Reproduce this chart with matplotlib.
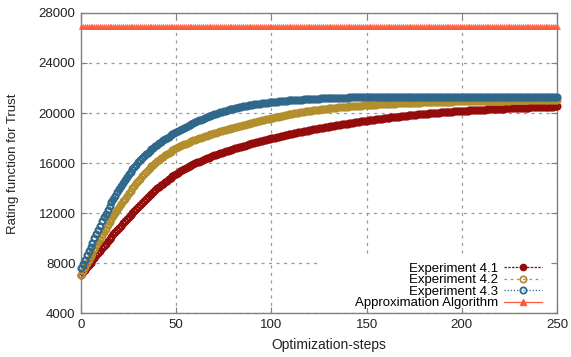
import numpy as np
import matplotlib
matplotlib.use("Agg")
import matplotlib.pyplot as plt
from matplotlib.lines import Line2D
from matplotlib.patches import Rectangle

plt.rcParams['font.family'] = ['Liberation Sans', 'DejaVu Sans']

# Optimization steps 0..250, one value per step
steps = np.arange(0, 251)

exp_41 = [
    7050, 7249, 7447, 7644, 7840, 8035, 8230, 8424, 8617, 8809,
    9000, 9188, 9375, 9560, 9744, 9926, 10107, 10287, 10465, 10642,
    10817, 10991, 11164, 11335, 11505, 11673, 11840, 12005, 12169, 12331,
    12492, 12651, 12807, 12961, 13112, 13261, 13407, 13551, 13692, 13831,
    13967, 14100, 14229, 14355, 14477, 14595, 14710, 14821, 14928, 15031,
    15131, 15228, 15322, 15413, 15502, 15588, 15672, 15753, 15831, 15907,
    15980, 16051, 16120, 16187, 16253, 16317, 16379, 16440, 16499, 16556,
    16612, 16667, 16721, 16774, 16826, 16877, 16928, 16978, 17027, 17075,
    17122, 17169, 17215, 17261, 17306, 17351, 17395, 17439, 17482, 17525,
    17567, 17609, 17650, 17691, 17731, 17771, 17810, 17849, 17887, 17925,
    17965, 18002, 18038, 18074, 18110, 18145, 18180, 18215, 18250, 18285,
    18320, 18351, 18382, 18413, 18444, 18475, 18506, 18537, 18568, 18599,
    18630, 18657, 18684, 18711, 18738, 18765, 18792, 18819, 18846, 18873,
    18900, 18926, 18952, 18978, 19004, 19030, 19056, 19082, 19108, 19134,
    19160, 19184, 19208, 19232, 19256, 19280, 19304, 19328, 19352, 19376,
    19400, 19419, 19438, 19457, 19476, 19495, 19514, 19533, 19552, 19571,
    19590, 19608, 19626, 19644, 19662, 19680, 19698, 19716, 19734, 19752,
    19770, 19786, 19802, 19818, 19834, 19850, 19866, 19882, 19898, 19914,
    19930, 19943, 19956, 19969, 19982, 19995, 20008, 20021, 20034, 20047,
    20060, 20071, 20082, 20093, 20104, 20115, 20126, 20137, 20148, 20159,
    20170, 20179, 20188, 20197, 20206, 20215, 20224, 20233, 20242, 20251,
    20260, 20268, 20276, 20284, 20292, 20300, 20308, 20316, 20324, 20332,
    20340, 20347, 20354, 20361, 20368, 20375, 20382, 20389, 20396, 20403,
    20410, 20416, 20422, 20428, 20434, 20440, 20446, 20452, 20458, 20464,
    20470, 20476, 20482, 20488, 20494, 20500, 20506, 20512, 20518, 20524,
    20530,
]

exp_42 = [
    7050, 7358, 7662, 7962, 8259, 8552, 8841, 9126, 9407, 9685,
    9959, 10229, 10495, 10757, 11015, 11269, 11519, 11765, 12007, 12245,
    12479, 12709, 12934, 13154, 13370, 13581, 13787, 13989, 14186, 14378,
    14565, 14747, 14924, 15095, 15260, 15420, 15574, 15722, 15864, 16001,
    16132, 16258, 16379, 16495, 16607, 16714, 16817, 16915, 17008, 17097,
    17181, 17262, 17340, 17415, 17488, 17558, 17626, 17691, 17753, 17813,
    17870, 17926, 17981, 18035, 18088, 18140, 18191, 18241, 18290, 18338,
    18385, 18432, 18478, 18524, 18569, 18614, 18658, 18702, 18745, 18788,
    18830, 18872, 18913, 18954, 18994, 19034, 19074, 19113, 19152, 19190,
    19228, 19266, 19303, 19340, 19376, 19412, 19447, 19482, 19516, 19550,
    19583, 19617, 19651, 19685, 19719, 19753, 19787, 19821, 19855, 19889,
    19920, 19946, 19972, 19998, 20024, 20050, 20076, 20102, 20128, 20154,
    20180, 20200, 20220, 20240, 20260, 20280, 20300, 20320, 20340, 20360,
    20380, 20394, 20408, 20422, 20436, 20450, 20464, 20478, 20492, 20506,
    20520, 20531, 20542, 20553, 20564, 20575, 20586, 20597, 20608, 20619,
    20630, 20639, 20648, 20657, 20666, 20675, 20684, 20693, 20702, 20711,
    20720, 20727, 20734, 20741, 20748, 20755, 20762, 20769, 20776, 20783,
    20790, 20796, 20802, 20808, 20814, 20820, 20826, 20832, 20838, 20844,
    20850, 20855, 20860, 20865, 20870, 20875, 20880, 20885, 20890, 20895,
    20900, 20904, 20908, 20912, 20916, 20920, 20924, 20928, 20932, 20936,
    20940, 20943, 20946, 20949, 20952, 20955, 20958, 20961, 20964, 20967,
    20970, 20972, 20974, 20976, 20978, 20980, 20982, 20984, 20986, 20988,
    20990, 20992, 20994, 20996, 20998, 21000, 21002, 21004, 21006, 21008,
    21010, 21012, 21014, 21016, 21018, 21020, 21022, 21024, 21026, 21028,
    21030, 21031, 21032, 21033, 21034, 21035, 21036, 21037, 21038, 21039,
    21040,
]

exp_43 = [
    7600, 7940, 8280, 8620, 8960, 9300, 9640, 9980, 10320, 10660,
    11000, 11326, 11644, 11955, 12258, 12554, 12842, 13123, 13396, 13662,
    13920, 14171, 14413, 14647, 14872, 15089, 15297, 15497, 15688, 15871,
    16045, 16212, 16374, 16530, 16681, 16826, 16966, 17100, 17229, 17352,
    17470, 17584, 17695, 17803, 17908, 18011, 18111, 18208, 18302, 18394,
    18483, 18570, 18655, 18738, 18819, 18899, 18977, 19053, 19127, 19199,
    19270, 19340, 19408, 19475, 19540, 19604, 19666, 19727, 19786, 19844,
    19900, 19955, 20008, 20059, 20108, 20155, 20200, 20243, 20284, 20323,
    20360, 20396, 20431, 20464, 20496, 20527, 20557, 20586, 20614, 20640,
    20665, 20689, 20712, 20734, 20756, 20777, 20797, 20816, 20834, 20852,
    20870, 20885, 20900, 20915, 20930, 20945, 20960, 20975, 20990, 21005,
    21020, 21030, 21040, 21050, 21060, 21070, 21080, 21090, 21100, 21110,
    21120, 21127, 21134, 21141, 21148, 21155, 21162, 21169, 21176, 21183,
    21190, 21195, 21200, 21205, 21210, 21215, 21220, 21225, 21230, 21235,
    21240, 21243, 21246, 21249, 21252, 21255, 21258, 21261, 21264, 21267,
    21270, 21272, 21273, 21275, 21276, 21278, 21279, 21281, 21282, 21284,
    21285, 21286, 21287, 21288, 21289, 21290, 21291, 21292, 21293, 21294,
    21295, 21295, 21296, 21296, 21297, 21297, 21298, 21298, 21299, 21299,
    21300, 21300, 21300, 21300, 21300, 21300, 21300, 21300, 21300, 21300,
    21300, 21300, 21300, 21300, 21300, 21300, 21300, 21300, 21300, 21300,
    21300, 21300, 21300, 21300, 21300, 21300, 21300, 21300, 21300, 21300,
    21300, 21300, 21300, 21300, 21300, 21300, 21300, 21300, 21300, 21300,
    21300, 21300, 21300, 21300, 21300, 21300, 21300, 21300, 21300, 21300,
    21300, 21300, 21300, 21300, 21300, 21300, 21300, 21300, 21300, 21300,
    21300, 21300, 21300, 21300, 21300, 21300, 21300, 21300, 21300, 21300,
    21300,
]

# approximation algorithm gives a constant level
approx_level = 26950
approx = [approx_level] * len(steps)

labels = ["Experiment 4.1", "Experiment 4.2", "Experiment 4.3", "Approximation Algorithm"]
colors = ["#930b0b", "#b38e2c", "#2f688a", "#ff5a3c"]

fig = plt.figure(figsize=(5.71, 3.57), dpi=100)
ax = fig.add_axes([0.1419, 0.1232, 0.8336, 0.8404])

ax.plot(steps, approx, linestyle='none', marker='^', ms=3.6, mfc=colors[3],
        mec=colors[3], mew=0.6, alpha=0.8, clip_on=False, zorder=3)
for ys, c in zip([exp_41, exp_42, exp_43], colors[:3]):
    ax.plot(steps, ys, linestyle='none', marker='o', ms=4.2, mfc='none',
            mec=c, mew=1.6, clip_on=False, zorder=3)

ax.set_xlim(0, 250)
ax.set_ylim(4000, 28000)
ax.set_xticks(np.arange(0, 251, 50))
ax.set_yticks(np.arange(4000, 28001, 4000))

ax.set_axisbelow(True)
ax.grid(True, color='#9a9a9a', linestyle=(0, (2.5, 3.5)), linewidth=0.9)
ax.tick_params(direction='in', length=4, width=0.8, top=True, right=True,
               color='#808080', labelcolor='#222222', labelsize=9.5, pad=4)
for sp in ax.spines.values():
    sp.set_color('#808080')
    sp.set_linewidth(1.0)

# white area behind the key (hides the grid there, like gnuplot)
ax.add_patch(Rectangle((0.498, 0.017), 0.49, 0.177, transform=ax.transAxes,
                       facecolor='white', edgecolor='none', zorder=1))

handles = [
    Line2D([], [], color=colors[0], ls=(0, (2, 1)), lw=0.9, marker='o', ms=4.5,
           mfc=colors[0], mec=colors[0]),
    Line2D([], [], color=colors[1], ls=(0, (2, 3)), lw=0.9, marker='o', ms=4.5,
           mfc='none', mec=colors[1], mew=1.3),
    Line2D([], [], color=colors[2], ls=(0, (1, 1.5)), lw=0.9, marker='o', ms=4.5,
           mfc='none', mec=colors[2], mew=1.3),
    Line2D([], [], color=colors[3], ls='-', lw=0.9, marker='^', ms=4,
           mfc=colors[3], mec=colors[3]),
]
ax.legend(handles, labels, loc='lower right', bbox_to_anchor=(0.9685, 0.012),
          frameon=False, markerfirst=False, fontsize=9.5, handlelength=2.9,
          handletextpad=0.45, labelspacing=-0.05, borderpad=0, borderaxespad=0,
          numpoints=1)

fig.text(329 / 571, 1 - 345 / 357, "Optimization-steps", ha='center', va='center',
         fontsize=10, color='#222222')
fig.text(13 / 571, 1 - 164 / 357, "Rating function for Trust", ha='center', va='center',
         rotation=90, fontsize=9.5, color='#222222')

fig.savefig("out.png", dpi=100)
